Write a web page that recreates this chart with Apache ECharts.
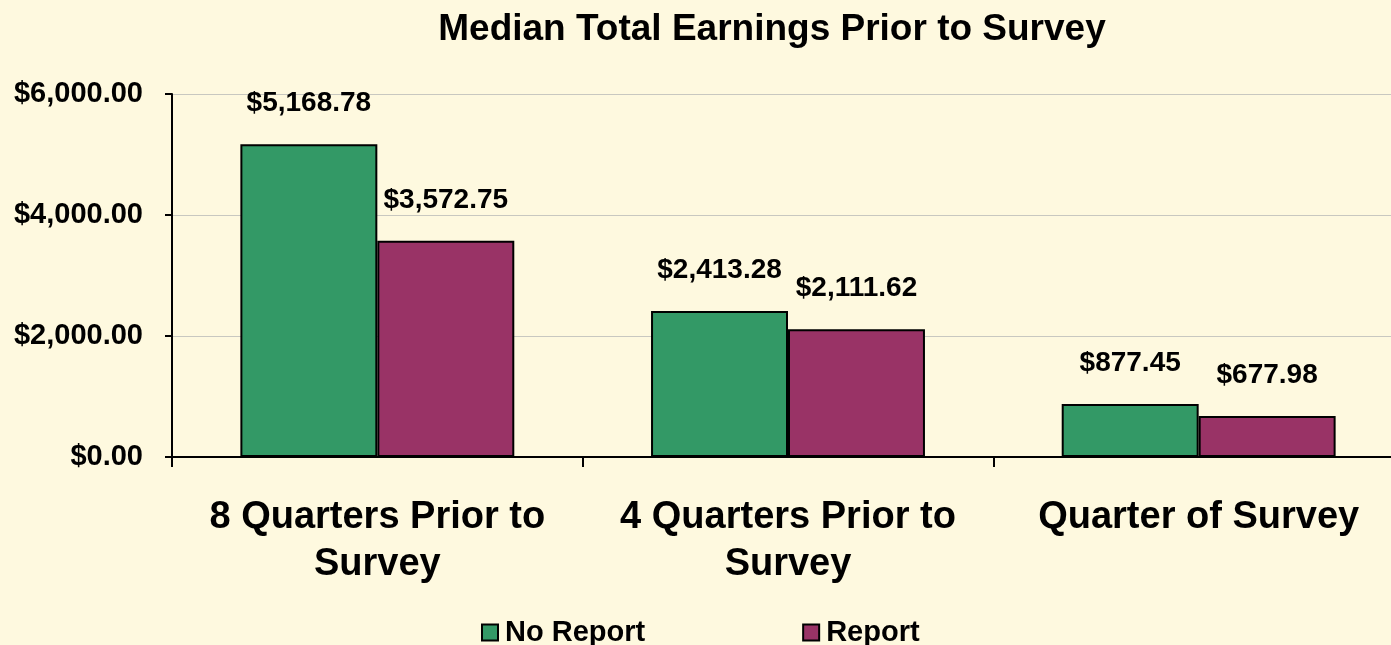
<!DOCTYPE html>
<html lang="en">
<head>
    <meta charset="UTF-8">
    <title>Median Total Earnings Prior to Survey</title>
    <style>
        html, body { margin: 0; padding: 0; background: #fef9df; }
    </style>
</head>
<body>
<div id="main" style="width: 1391px;height: 645px;"></div>
<script src="https://cdn.jsdelivr.net/npm/echarts@6/dist/echarts.min.js"></script>
<script type="text/javascript">

    // categories and values
    var categories = ['8 Quarters Prior to\nSurvey', '4 Quarters Prior to\nSurvey', 'Quarter of Survey'];
    var noReport = [5168.78, 2413.28, 877.45];
    var report = [3572.75, 2111.62, 677.98];
    var seriesNames = ['No Report', 'Report'];

    // $1,234.56
    function money(v) {
        var s = Number(v).toFixed(2).split('.');
        s[0] = s[0].replace(/\B(?=(\d{3})+(?!\d))/g, ',');
        return '$' + s.join('.');
    }

    var font = 'Liberation Sans, Arial, sans-serif';

    var labelStyle = {
        show: true,
        position: 'top',
        distance: 27,
        fontFamily: font,
        fontWeight: 'bold',
        fontSize: 28,
        color: '#000',
        formatter: function (p) { return money(p.value); }
    };

    var option = {
        backgroundColor: '#fef9df',
        animation: false,
        title: {
            text: 'Median Total Earnings Prior to Survey',
            left: 767,
            top: 6,
            textAlign: 'center',
            textStyle: {
                fontFamily: font,
                fontWeight: 'bold',
                fontSize: 37,
                color: '#000'
            }
        },
        legend: {
            data: seriesNames,
            top: 613,
            left: 476,
            itemGap: 157,
            itemWidth: 16,
            itemHeight: 16,
            icon: 'rect',
            itemStyle: { borderColor: '#000', borderWidth: 2 },
            textStyle: {
                fontFamily: font,
                fontWeight: 'bold',
                fontSize: 29,
                color: '#000',
                padding: [0, 0, 0, 2]
            }
        },
        grid: {
            left: 172,
            top: 94,
            width: 1232,
            height: 363,
            outerBoundsMode: 'none',
            containLabel: false
        },
        xAxis: {
            type: 'category',
            data: categories,
            axisLine: { lineStyle: { color: '#000', width: 2 } },
            axisTick: { show: true, length: 10, lineStyle: { color: '#000', width: 2 } },
            axisLabel: {
                margin: 37,
                fontFamily: font,
                fontWeight: 'bold',
                fontSize: 38,
                lineHeight: 47,
                color: '#000',
                interval: 0
            }
        },
        yAxis: {
            type: 'value',
            min: 0,
            max: 6000,
            interval: 2000,
            axisLine: { show: true, lineStyle: { color: '#000', width: 2 } },
            axisTick: { show: true, length: 7, lineStyle: { color: '#000', width: 2 } },
            splitLine: { lineStyle: { color: '#c8c8c0', width: 1 } },
            axisLabel: {
                margin: 29,
                fontFamily: font,
                fontWeight: 'bold',
                fontSize: 29,
                color: '#000',
                padding: [6, 0, 0, 0],
                formatter: money
            }
        },
        series: [{
            name: seriesNames[0],
            type: 'bar',
            data: noReport,
            barGap: 0,
            barCategoryGap: '33.3%',
            itemStyle: { color: '#339966', borderColor: '#000', borderWidth: 2 },
            label: labelStyle
        }, {
            name: seriesNames[1],
            type: 'bar',
            data: report,
            itemStyle: { color: '#993366', borderColor: '#000', borderWidth: 2 },
            label: labelStyle
        }]
    };

    var myChart = echarts.init(document.getElementById('main'));
    myChart.setOption(option);
    window.onresize = function () {
        myChart.resize();
    };
</script>
</body>
</html>
